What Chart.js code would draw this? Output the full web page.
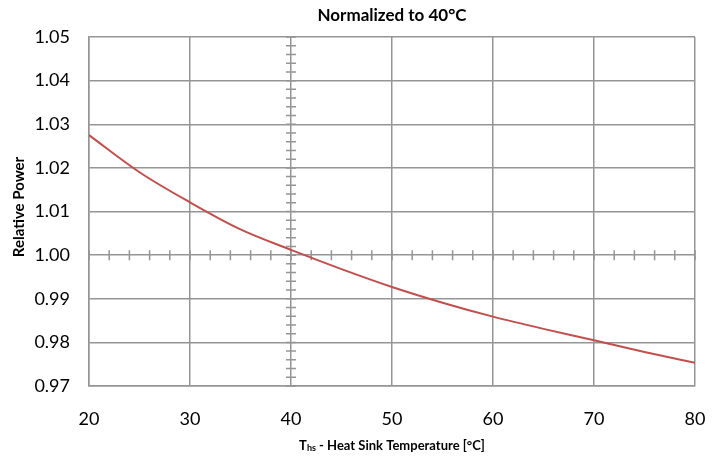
<!DOCTYPE html>
<html>
<head>
<meta charset="utf-8">
<script src="https://cdn.jsdelivr.net/npm/chart.js@4"></script>
<style>
  body { margin: 0; background: #fff; }
  #wrap { width: 722px; height: 459px; }
</style>
</head>
<body>
<div id="wrap"><canvas id="chart"></canvas></div>
<script>
// data
const temps = [20, 25, 30, 35, 40, 45, 50, 55, 60, 65, 70, 75, 80];
const relPower = [1.0275, 1.0190, 1.0121, 1.0059, 1.0012, 0.9968, 0.9927, 0.9891, 0.9859, 0.9831, 0.9805, 0.9778, 0.9753];
const xTicks = [20, 30, 40, 50, 60, 70, 80];
const yTicks = [0.97, 0.98, 0.99, 1.00, 1.01, 1.02, 1.03, 1.04, 1.05];
const chartTitle = 'Normalized to 40°C';
const yTitle = 'Relative Power';
const xTitle = ['T', 'hs', ' - Heat Sink Temperature [°C]'];

// axes cross at 40 / 1.00 with minor ticks
const crossX = 40;
const crossY = 1.00;
const minorX = 2;
const minorY = 0.002;

const gridColor = '#959595';
const font = 'Lato, "Open Sans", sans-serif';

const decor = {
  id: 'decor',
  beforeDatasetsDraw(chart) {
    const ctx = chart.ctx;
    const x = chart.scales.x, y = chart.scales.y;
    const x0 = x.getPixelForValue(crossX);
    const y0 = y.getPixelForValue(crossY);
    ctx.save();
    ctx.strokeStyle = gridColor;
    ctx.lineWidth = 1.5;
    ctx.beginPath();
    for (let v = xTicks[0]; v <= xTicks[xTicks.length - 1] + 0.001; v += minorX) {
      const px = x.getPixelForValue(v);
      ctx.moveTo(px, y0 - 5);
      ctx.lineTo(px, y0 + 5);
    }
    for (let v = yTicks[0]; v <= yTicks[yTicks.length - 1] + 0.0001; v += minorY) {
      const py = y.getPixelForValue(v);
      ctx.moveTo(x0 - 5, py);
      ctx.lineTo(x0 + 5, py);
    }
    ctx.stroke();
    ctx.restore();
  },
  afterDraw(chart) {
    const ctx = chart.ctx;
    const a = chart.chartArea;
    const cx = (a.left + a.right) / 2;
    ctx.save();
    ctx.fillStyle = '#000';

    ctx.font = 'bold 17px ' + font;
    ctx.textAlign = 'center';
    ctx.textBaseline = 'middle';
    ctx.fillText(chartTitle, cx, 16);

    ctx.save();
    ctx.translate(19, 207);
    ctx.rotate(-Math.PI / 2);
    ctx.font = 'bold 15px ' + font;
    ctx.fillText(yTitle, 0, 0);
    ctx.restore();

    // x title with subscript
    ctx.textAlign = 'left';
    ctx.textBaseline = 'alphabetic';
    const big = 'bold 13px ' + font, small = 'bold 9px ' + font;
    ctx.font = big;
    const w0 = ctx.measureText(xTitle[0]).width;
    const w2 = ctx.measureText(xTitle[2]).width;
    ctx.font = small;
    const w1 = ctx.measureText(xTitle[1]).width;
    let sx = cx - (w0 + w1 + w2) / 2;
    const by = 450;
    ctx.font = big;
    ctx.fillText(xTitle[0], sx, by);
    ctx.font = small;
    ctx.fillText(xTitle[1], sx + w0, by + 1);
    ctx.font = big;
    ctx.fillText(xTitle[2], sx + w0 + w1, by);
    ctx.restore();
  }
};

new Chart(document.getElementById('chart'), {
  type: 'line',
  data: {
    datasets: [{
      data: temps.map((t, i) => ({ x: t, y: relPower[i] })),
      borderColor: '#c0504d',
      borderWidth: 2,
      pointRadius: 0,
      cubicInterpolationMode: 'monotone',
      fill: false
    }]
  },
  options: {
    responsive: true,
    maintainAspectRatio: false,
    animation: false,
    layout: { padding: { top: 37, right: 27, left: 0, bottom: 0 } },
    plugins: {
      legend: { display: false },
      tooltip: { enabled: false },
      title: { display: false }
    },
    scales: {
      x: {
        type: 'linear',
        min: 20,
        max: 80,
        afterBuildTicks: s => { s.ticks = xTicks.map(v => ({ value: v })); },
        afterFit: s => { s.height = 73; s.paddingLeft = 0; s.paddingRight = 0; },
        grid: { color: gridColor, lineWidth: 1.5, drawTicks: false },
        border: { color: gridColor, width: 1.5 },
        ticks: { padding: 22, color: '#000', font: { family: font, size: 18 } }
      },
      y: {
        min: 0.97,
        max: 1.05,
        afterBuildTicks: s => { s.ticks = yTicks.map(v => ({ value: v })); },
        afterFit: s => { s.width = 89; s.paddingTop = 0; s.paddingBottom = 0; },
        grid: { color: gridColor, lineWidth: 1.5, drawTicks: false },
        border: { color: gridColor, width: 1.5 },
        ticks: {
          padding: 19,
          color: '#000',
          font: { family: font, size: 18 },
          callback: v => v.toFixed(2)
        }
      }
    }
  },
  plugins: [decor]
});
</script>
</body>
</html>
